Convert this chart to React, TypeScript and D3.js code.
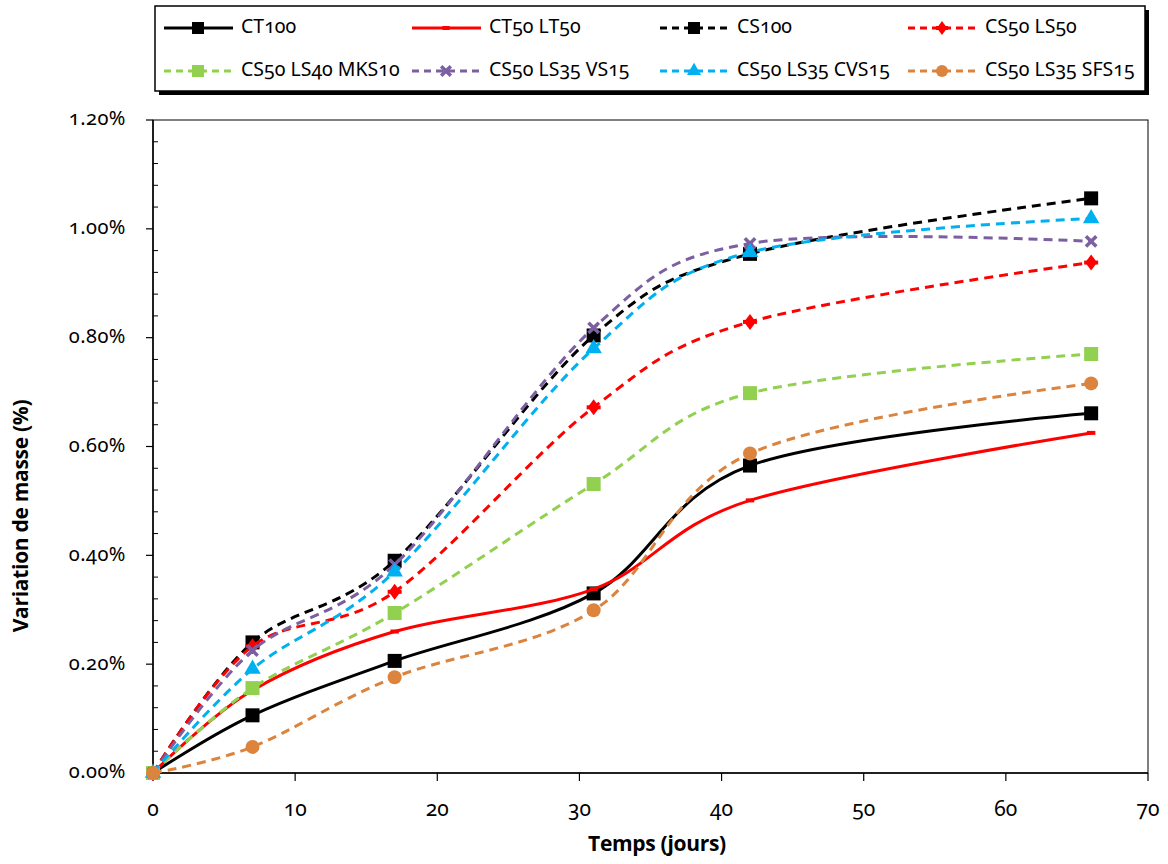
import React from "react";
import * as d3 from "d3";

const days = [0, 7, 17, 31, 42, 66];

const ct100 = [0, 0.106, 0.206, 0.330, 0.565, 0.661];
const ct50lt50 = [0, 0.152, 0.260, 0.338, 0.501, 0.625];
const cs100 = [0, 0.240, 0.390, 0.804, 0.954, 1.056];
const cs50ls50 = [0, 0.233, 0.333, 0.672, 0.829, 0.938];
const cs50ls40mks10 = [0, 0.156, 0.294, 0.531, 0.698, 0.770];
const cs50ls35vs15 = [0, 0.225, 0.383, 0.818, 0.973, 0.977];
const cs50ls35cvs15 = [0, 0.191, 0.370, 0.780, 0.957, 1.019];
const cs50ls35sfs15 = [0, 0.048, 0.176, 0.299, 0.587, 0.716];

const yTicks = [0, 0.2, 0.4, 0.6, 0.8, 1.0, 1.2];
const xTicks = [0, 10, 20, 30, 40, 50, 60, 70];

type Part = { t: string; sub?: boolean };
type Series = {
  parts: Part[];
  values: number[];
  color: string;
  dashed: boolean;
  marker: string;
};

const series: Series[] = [
  { parts: [{ t: "CT" }, { t: "100", sub: true }], values: ct100, color: "#000000", dashed: false, marker: "square" },
  { parts: [{ t: "CT" }, { t: "50", sub: true }, { t: " LT" }, { t: "50", sub: true }], values: ct50lt50, color: "#FF0000", dashed: false, marker: "dash" },
  { parts: [{ t: "CS" }, { t: "100", sub: true }], values: cs100, color: "#000000", dashed: true, marker: "square" },
  { parts: [{ t: "CS" }, { t: "50", sub: true }, { t: " LS" }, { t: "50", sub: true }], values: cs50ls50, color: "#FF0000", dashed: true, marker: "star" },
  { parts: [{ t: "CS" }, { t: "50", sub: true }, { t: " LS" }, { t: "40", sub: true }, { t: " MKS" }, { t: "10", sub: true }], values: cs50ls40mks10, color: "#92D050", dashed: true, marker: "square" },
  { parts: [{ t: "CS" }, { t: "50", sub: true }, { t: " LS" }, { t: "35", sub: true }, { t: " VS" }, { t: "15", sub: true }], values: cs50ls35vs15, color: "#7B5FA0", dashed: true, marker: "x" },
  { parts: [{ t: "CS" }, { t: "50", sub: true }, { t: " LS" }, { t: "35", sub: true }, { t: " CVS" }, { t: "15", sub: true }], values: cs50ls35cvs15, color: "#00B0F0", dashed: true, marker: "triangle" },
  { parts: [{ t: "CS" }, { t: "50", sub: true }, { t: " LS" }, { t: "35", sub: true }, { t: " SFS" }, { t: "15", sub: true }], values: cs50ls35sfs15, color: "#DC843D", dashed: true, marker: "circle" },
];

const W = 1168;
const H = 864;
const plot = { left: 153, right: 1148, top: 120, bottom: 773 };
const FONT = "'Noto Sans', 'Open Sans', sans-serif";
const TITLE_FONT = "'Open Sans', 'Noto Sans', sans-serif";
const ONUM = { fontVariantNumeric: "oldstyle-nums", fontFeatureSettings: "'onum' 1" } as React.CSSProperties;

function Marker({ type, x, y, s, color }: { type: string; x: number; y: number; s: number; color: string }) {
  if (type === "square") {
    return <rect x={x - s / 2} y={y - s / 2} width={s} height={s} fill={color} />;
  }
  if (type === "dash") {
    return <rect x={x - s * 0.3} y={y - 2} width={s * 0.6} height={4} fill={color} />;
  }
  if (type === "star") {
    const h = s / 2;
    return (
      <g fill={color}>
        <path d={`M${x},${y - h - 1}L${x + h * 0.85},${y}L${x},${y + h + 1}L${x - h * 0.85},${y}Z`} />
        <rect x={x - h} y={y - 2} width={s} height={4} />
      </g>
    );
  }
  if (type === "triangle") {
    const p = d3.symbol().type(d3.symbolTriangle).size(s * s * 0.6)();
    return <path d={p || ""} transform={`translate(${x},${y})`} fill={color} />;
  }
  if (type === "circle") {
    return <circle cx={x} cy={y} r={s / 2} fill={color} />;
  }
  if (type === "x") {
    const h = s * 0.4;
    return (
      <g stroke={color} strokeWidth={3.5}>
        <line x1={x - h} y1={y - h} x2={x + h} y2={y + h} />
        <line x1={x - h} y1={y + h} x2={x + h} y2={y - h} />
      </g>
    );
  }
  return null;
}

function Label({ parts, x, y }: { parts: Part[]; x: number; y: number }) {
  return (
    <text x={x} y={y} fontFamily={FONT} fontSize={19.5} fill="#000" dominantBaseline="middle" style={ONUM}>
      {parts.map((p, i) => (
        <tspan key={i}>{p.t}</tspan>
      ))}
    </text>
  );
}

export default function App() {
  const x = d3.scaleLinear().domain([0, 70]).range([plot.left, plot.right]);
  const y = d3.scaleLinear().domain([0, 1.2]).range([plot.bottom, plot.top]);
  const line = d3
    .line<number>()
    .x((_, i) => x(days[i]))
    .y((v) => y(v))
    .curve(d3.curveCardinal.tension(0));

  const minorTicks = d3.range(0, 1.2001, 0.04).filter((v) => Math.abs(v / 0.2 - Math.round(v / 0.2)) > 1e-6);

  const legend = { x: 155, y: 6, w: 990, h: 85 };
  const colX = [164, 412, 660, 908];
  const rowY = [28, 71];

  return (
    <svg width={W} height={H} style={{ position: "absolute", left: 0, top: 0, background: "#fff" }}>
      <rect x={0} y={0} width={W} height={H} fill="#fff" />
      {/* Legend */}
      <rect x={legend.x + 4} y={legend.y + 4} width={legend.w} height={legend.h} fill="#000" />
      <rect x={legend.x} y={legend.y} width={legend.w} height={legend.h} fill="#fff" stroke="#000" strokeWidth={1.5} />
      {series.map((s, i) => {
        const cx = colX[i % 4];
        const cy = rowY[Math.floor(i / 4)];
        return (
          <g key={i}>
            <line x1={cx} x2={cx + 69} y1={cy} y2={cy} stroke={s.color} strokeWidth={3} strokeDasharray={s.dashed ? "7,5" : undefined} />
            <Marker type={s.marker} x={cx + 34} y={cy} s={12} color={s.color} />
            <Label parts={s.parts} x={cx + 77} y={cy} />
          </g>
        );
      })}

      {/* Plot border */}
      <rect x={plot.left} y={plot.top} width={plot.right - plot.left} height={plot.bottom - plot.top} fill="none" stroke="#000" strokeWidth={1} />

      {/* Y axis */}
      <line x1={plot.left} x2={plot.left} y1={plot.top} y2={plot.bottom} stroke="#000" strokeWidth={1.5} />
      {yTicks.map((t) => (
        <g key={t}>
          <line x1={plot.left - 7} x2={plot.left} y1={y(t)} y2={y(t)} stroke="#000" strokeWidth={1.2} />
          <text x={126} y={y(t)} textAnchor="end" dominantBaseline="middle" fontFamily={FONT} fontSize={20} fill="#000" letterSpacing={0.5} style={ONUM}>
            {d3.format(".2%")(t / 100)}
          </text>
        </g>
      ))}
      {minorTicks.map((t, i) => (
        <line key={i} x1={plot.left} x2={plot.left + 5} y1={y(t)} y2={y(t)} stroke="#000" strokeWidth={1} />
      ))}

      {/* X axis */}
      <line x1={plot.left} x2={plot.right} y1={plot.bottom} y2={plot.bottom} stroke="#000" strokeWidth={1.5} />
      {xTicks.map((t) => (
        <g key={t}>
          <line x1={x(t)} x2={x(t)} y1={plot.bottom} y2={plot.bottom + 8} stroke="#000" strokeWidth={1.2} />
          <text x={x(t)} y={810} textAnchor="middle" dominantBaseline="middle" fontFamily={FONT} fontSize={21} fill="#000" style={ONUM}>
            {t}
          </text>
        </g>
      ))}

      {/* Axis titles */}
      <text x={657} y={845} textAnchor="middle" dominantBaseline="middle" fontFamily={TITLE_FONT} fontWeight="bold" fontSize={21} fill="#000" letterSpacing={-0.3}>
        Temps (jours)
      </text>
      <text transform={`translate(22,${516}) rotate(-90)`} textAnchor="middle" dominantBaseline="middle" fontFamily={TITLE_FONT} fontWeight="bold" fontSize={21} fill="#000" letterSpacing={-0.3}>
        Variation de masse (%)
      </text>

      {/* Series */}
      {series.map((s, i) => (
        <g key={i}>
          <path d={line(s.values) || ""} fill="none" stroke={s.color} strokeWidth={3} strokeDasharray={s.dashed ? "9,6" : undefined} />
          {s.values.map((v, j) => (
            <Marker key={j} type={s.marker} x={x(days[j])} y={y(v)} s={s.marker === "x" ? 13 : 14} color={s.color} />
          ))}
        </g>
      ))}
    </svg>
  );
}
